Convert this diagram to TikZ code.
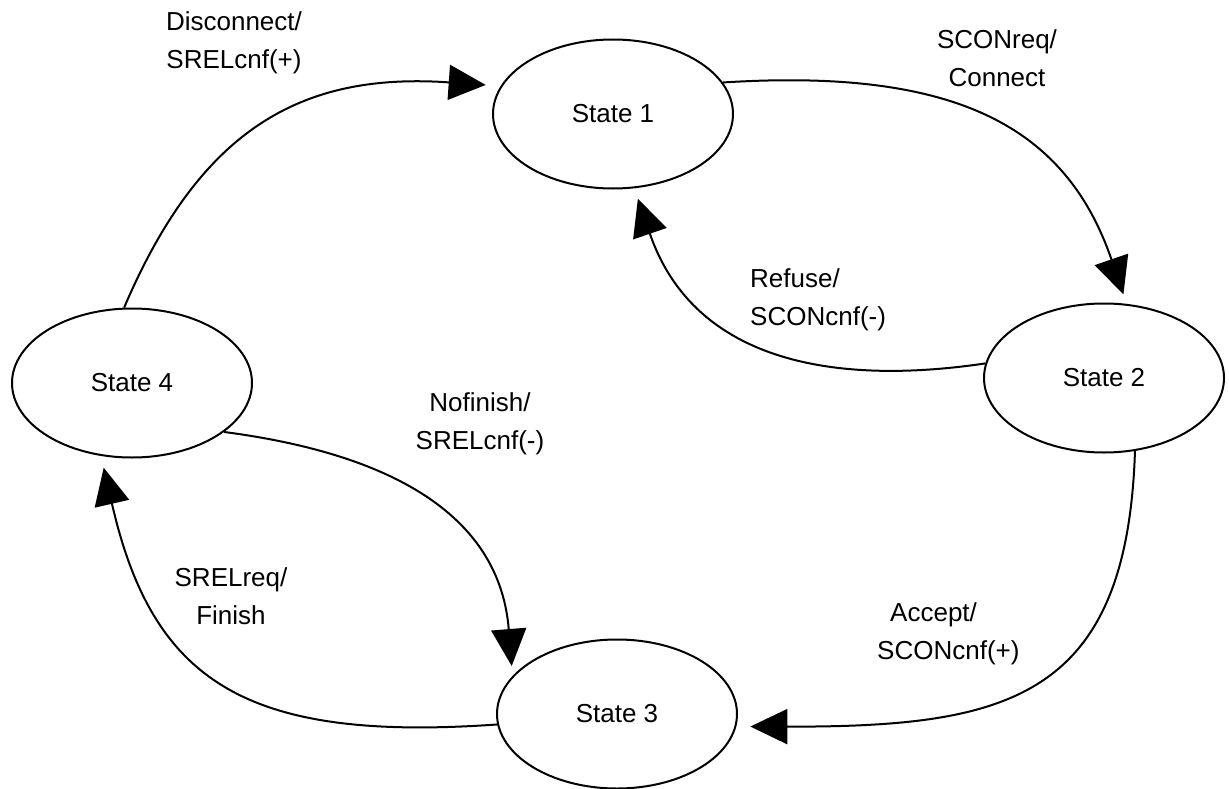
\documentclass[tikz,border=0pt]{standalone}
\usepackage{fontspec}
\setmainfont{Liberation Sans}
\usetikzlibrary{shapes.geometric,arrows.meta}
\begin{document}
\begin{tikzpicture}[x=1pt,y=-1pt,
  txt/.style={font=\fontsize{26}{38.5}\selectfont},
  state/.style={txt,draw,ellipse,line width=2pt,minimum width=240pt,
    minimum height=149pt,inner sep=0pt},
  trans/.style={line width=2pt,-{Triangle[length=37pt,width=35pt]}},
  lbl/.style={txt,inner sep=0pt,align=center}]
\useasboundingbox (0,0) rectangle (1229,789);

% states
\node[state] (s1) at (613,114) {State 1};
\node[state] (s2) at (1104,378) {State 2};
\node[state] (s3) at (617,714) {State 3};
\node[state] (s4) at (132,383) {State 4};

% transitions
\draw[trans,shorten >=15pt] (s4.96)  .. controls (200,130) and (300,72) .. (s1.166);
\draw[trans,shorten >=10pt] (s1.16)  .. controls (952,68) and (1065,124) .. (s2.73);
\draw[trans,shorten >=11pt] (s2.173) .. controls (840,385) and (695,365) .. (s1.286);
\draw[trans,shorten >=14pt] (s2.293) .. controls (1127,700) and (1006,727) .. (s3.354);
\draw[trans,shorten >=10pt] (s4.332) .. controls (400,455) and (500,520) .. (s3.160);
\draw[trans,shorten >=12pt] (s3.185) .. controls (247,742) and (153,683) .. (s4.247);

% transition labels
\node[lbl] (ldis) at (234,43) {Disconnect/\\SRELcnf(+)};
\node[lbl] (lcon) at (997,58) {SCONreq/\\Connect};
\node[lbl,align=left,anchor=west] (lref) at (750,300) {Refuse/\\SCONcnf(-)};
\node[lbl] (lnof) at (480,424) {Nofinish/\\SRELcnf(-)};
\node[lbl] (lfin) at (231,596) {SRELreq/\\Finish};
\node[lbl,align=left,anchor=west] (lacc) at (877,634) {\hspace*{13pt}Accept/\\SCONcnf(+)};
\end{tikzpicture}
\end{document}
